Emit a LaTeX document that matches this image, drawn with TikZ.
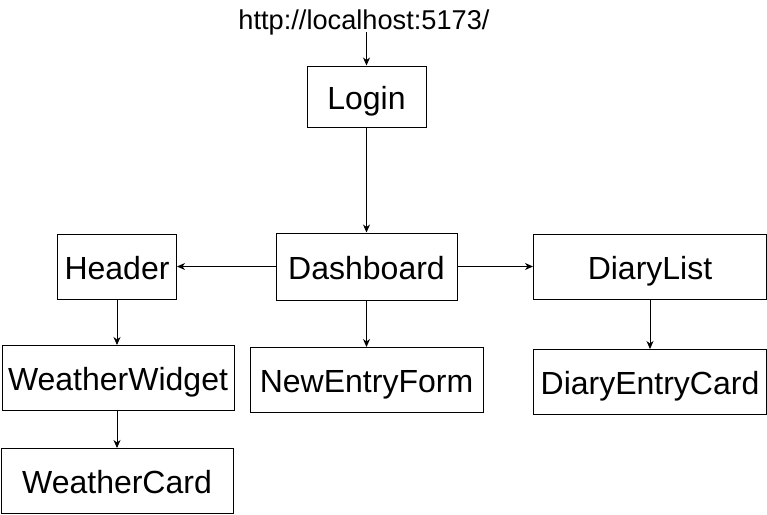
\documentclass[tikz,border=0pt]{standalone}
\usepackage{fontspec}
\setmainfont{Liberation Sans}
\usetikzlibrary{arrows.meta}
\tikzset{
  box/.style={draw=black, line width=1pt, inner sep=0pt, font=\fontsize{32}{38}\selectfont, text height=25pt, text depth=0pt},
  arr/.style={draw=black, line width=0.9pt, -{Stealth[length=8pt,width=7pt,inset=2.5pt]}},
}
\begin{document}
\begin{tikzpicture}[x=1pt,y=-1pt]
\useasboundingbox (0,0) rectangle (767,514);
\node[font=\fontsize{27.2}{31}\selectfont, inner sep=0pt, text height=21pt, text depth=0pt] (url) at (364,19) {http://localhost:5173/};
\node[box, minimum width=119pt, minimum height=61pt] (login) at (366.5,96.5) {Login};
\node[box, minimum width=181pt, minimum height=67pt] (dash) at (366.5,266.5) {Dashboard};
\node[box, minimum width=119pt, minimum height=65pt] (header) at (117,266.5) {Header};
\node[box, minimum width=233pt, minimum height=65pt] (diarylist) at (650,266.5) {DiaryList};
\node[box, minimum width=232pt, minimum height=65pt] (ww) at (118,378) {WeatherWidget};
\node[box, minimum width=233pt, minimum height=65pt] (nef) at (366.5,380) {NewEntryForm};
\node[box, minimum width=233pt, minimum height=65pt] (dec) at (650,382) {DiaryEntryCard};
\node[box, minimum width=232pt, minimum height=65pt] (wc) at (117,481) {WeatherCard};
\coordinate (urlfoot) at (366.5,32);
\draw[arr] (urlfoot) -- (login.north);
\draw[arr] (login.south) -- (dash.north);
\draw[arr] (dash.west) -- (header.east);
\draw[arr] (dash.east) -- (diarylist.west);
\draw[arr] (dash.south) -- (nef.north);
\draw[arr] (header.south) -- (ww.north -| header.south);
\draw[arr] (ww.south -| wc.north) -- (wc.north);
\draw[arr] (diarylist.south) -- (dec.north);
\end{tikzpicture}
\end{document}
